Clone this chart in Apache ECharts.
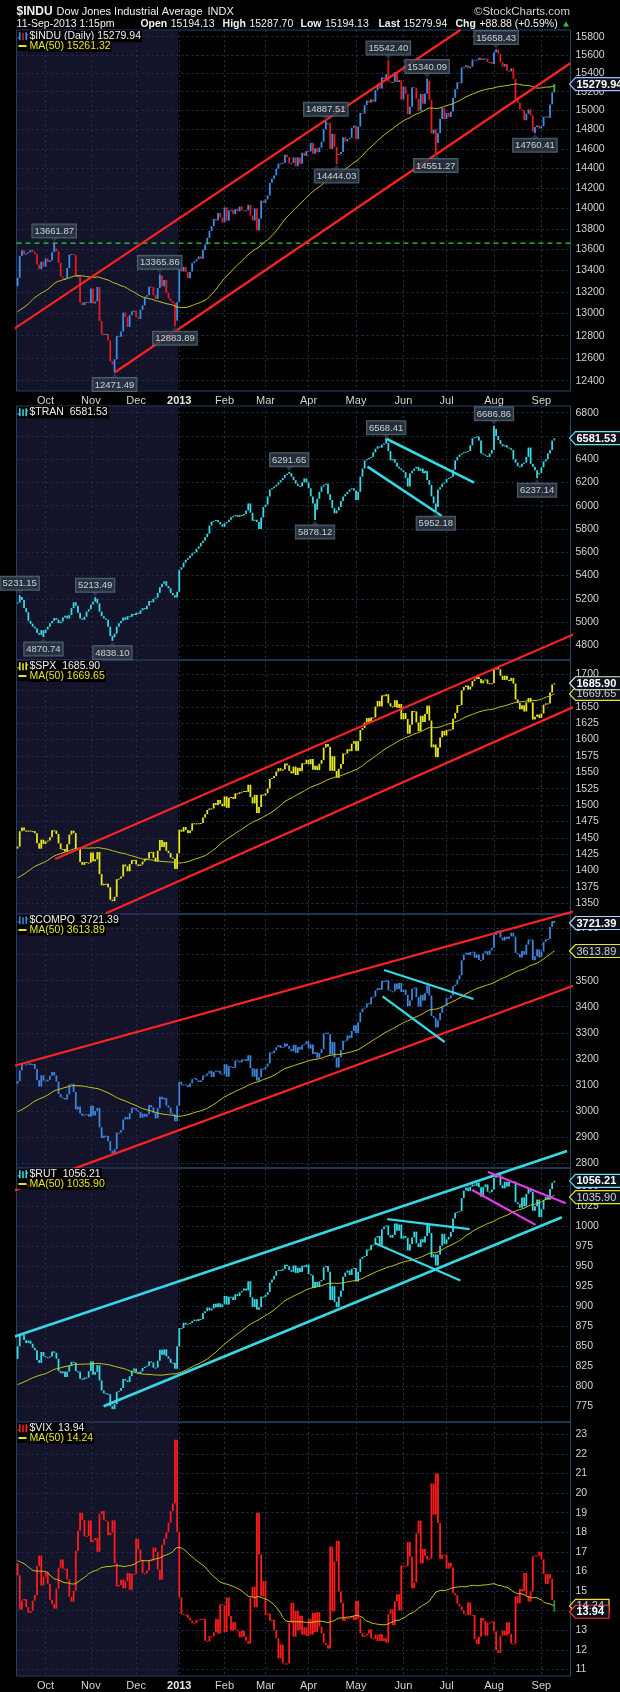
<!DOCTYPE html>
<html>
<head>
<meta charset="utf-8">
<script src="https://cdn.jsdelivr.net/npm/echarts@6/dist/echarts.min.js"></script>
<style>
html,body{margin:0;padding:0;background:#000;}
#chart{width:620px;height:1692px;}
</style>
</head>
<body>
<div id="chart"></div>
<script>
// ---- trading calendar -------------------------------------------------
const firstDay = [2012, 8, 12];
const lastDay = [2013, 8, 11];
const marketHolidays = ['2012-10-29','2012-10-30','2012-11-22','2012-12-25','2013-01-01',
  '2013-01-21','2013-02-18','2013-03-29','2013-05-27','2013-07-04','2013-09-02'];
const monthAbbr = ['Jan','Feb','Mar','Apr','May','Jun','Jul','Aug','Sep','Oct','Nov','Dec'];

// ---- axis ticks -------------------------------------------------------
const induTicks = [12400,12600,12800,13000,13200,13400,13600,13800,14000,14200,14400,14600,14800,15000,15200,15400,15600,15800];
const tranTicks = [4800,5000,5200,5400,5600,5800,6000,6200,6400,6600,6800];
const spxTicks = [1350,1375,1400,1425,1450,1475,1500,1525,1550,1575,1600,1625,1650,1675,1700];
const compqTicks = [2800,2900,3000,3100,3200,3300,3400,3500,3600,3700];
const rutTicks = [775,800,825,850,875,900,925,950,975,1000,1025,1050];
const vixTicks = [11,12,13,14,15,16,17,18,19,20,21,22,23];

// ---- daily closes -----------------------------------------------------
const induPrior = [12871,12943,12896,12772,12736,12653,12604,12573,12777,12727,12805,12908,12943,12822,12617,12676,12734,12888,13075,13008,12976,13096,13117,13165,13168,13175,13207,13165,13172,13164,13251,13275,13271,13255,13203,13173,13057,13125,13172,13107,13103,13124,13000,13090,13035,13047,13292,13306,13254];
const induClose = [
13333,13539,13593,13553,13564,13577,13596,13579,13558,13457,13413,13485,13437,
13515,13482,13495,13575,13610,13584,13474,13345,13326,13329,13424,13551,13557,13548,13344,13346,13103,13078,13104,13107,13096,
13232,13093,13112,13246,12932,12811,12815,12815,12757,12571,12543,12588,12796,12789,12837,13010,12968,12879,12986,13022,13026,
12966,12952,13035,13075,13155,13170,13249,13246,13171,13135,13236,13351,13252,13312,13191,13139,13114,13096,12938,13104,
13412,13391,13435,13385,13329,13390,13471,13488,13507,13535,13511,13596,13649,13712,13780,13825,13896,13881,13954,13910,13861,
14010,13880,13979,13987,13944,13993,13971,14019,13982,13973,13981,14035,13928,13881,14000,13784,13900,14076,14054,
14090,14128,14254,14296,14329,14397,14448,14451,14456,14539,14515,14453,14456,14512,14421,14512,14448,14560,14527,14579,
14573,14662,14550,14606,14565,14613,14673,14802,14865,14865,14599,14757,14619,14537,14548,14568,14720,14677,14700,14713,14819,14840,
14700,14831,14974,14969,15056,15105,15083,15118,15091,15216,15275,15233,15354,15335,15388,15308,15294,15303,15409,15303,15324,15116,
15254,15177,14960,15040,15248,15239,15123,14996,15176,15070,15180,15318,15112,14758,14800,14659,14760,14910,15024,14910,
14975,14932,14988,15136,15225,15300,15291,15460,15464,15484,15452,15471,15548,15544,15545,15568,15543,15556,15559,15521,15521,15500,
15628,15658,15612,15519,15471,15498,15425,15419,15452,15338,15113,15082,15010,15003,14897,14964,15010,14946,14777,14825,14841,14810,
14834,14931,14938,14922,15064,15192,15279.94];

const tranClose = [
5168,5215,5190,5120,5085,5010,4985,4960,4945,4905,4890,4930,4905,
4935,4960,4990,5010,5035,5020,4990,5005,5040,5055,5030,5060,5120,5170,5140,5080,5030,5020,5045,5090,5110,
5150,5175,5200,5160,5090,5050,5030,5020,4960,4880,4870,4900,4960,4990,5010,5040,5020,5050,5045,5070,5060,
5080,5070,5100,5120,5110,5140,5180,5170,5200,5210,5250,5300,5330,5350,5310,5290,5250,5230,5210,5260,
5450,5470,5510,5535,5550,5570,5590,5600,5630,5650,5680,5700,5730,5760,5830,5864,5870,5878,5860,5840,5820,
5850,5860,5880,5900,5910,5920,5905,5920,5915,5930,5960,6020,5940,5870,5880,5860,5800,5900,5990,
6010,6080,6140,6150,6165,6180,6200,6220,6240,6265,6275,6280,6250,6220,6190,6170,6165,6200,6235,6200,
6150,6080,6020,5965,6060,6120,6165,6180,6190,6100,6050,5980,5935,5960,5990,6040,6080,6100,6120,6140,6150,6130,
6050,6120,6250,6320,6390,6400,6410,6420,6460,6490,6510,6500,6525,6535,6540,6470,6390,6400,6370,6335,6320,6305,
6290,6240,6165,6280,6300,6320,6335,6300,6320,6280,6300,6220,6180,6080,6020,5990,6140,6160,6190,6200,
6230,6240,6250,6310,6390,6420,6440,6450,6460,6465,6470,6520,6580,6590,6595,6560,6450,6440,6430,6420,6450,6480,
6660,6600,6565,6530,6510,6520,6500,6495,6480,6400,6370,6340,6335,6360,6370,6420,6500,6360,6335,6305,6270,6280,
6330,6380,6400,6450,6480,6560,6581.53];

const spxPrior = [1374.02,1367.58,1354.68,1352.46,1341.47,1341.45,1334.76,1356.78,1353.64,1363.67,1372.78,1376.51,1362.66,1350.52,1338.31,1337.89,1360.02,1385.97,1385.30,1379.32,1375.32,1365.00,1390.99,1394.23,1401.35,1402.22,1402.80,1405.87,1404.11,1403.93,1405.53,1415.51,1418.16,1418.13,1413.17,1413.49,1402.08,1411.13,1410.44,1409.30,1410.49,1399.48,1406.58,1404.94,1403.44,1432.12,1437.92,1429.08,1433.56];
const spxClose = [
1436.56,1459.99,1465.77,1461.19,1459.32,1461.05,1460.26,1460.15,1456.89,1441.59,1433.32,1447.15,1440.67,
1444.49,1445.75,1450.99,1461.40,1460.93,1455.88,1441.48,1432.56,1432.84,1428.59,1440.13,1454.92,1460.91,1457.34,1433.19,1433.82,1413.11,1408.75,1412.97,1411.94,1412.16,
1427.59,1414.20,1417.26,1428.39,1394.53,1377.51,1379.85,1380.03,1374.53,1355.49,1353.33,1359.88,1386.89,1387.81,1391.03,1409.15,1406.29,1398.94,1409.93,1415.95,1416.18,
1409.46,1407.05,1409.28,1413.94,1418.07,1418.55,1427.84,1428.48,1419.45,1413.58,1430.36,1446.79,1435.81,1443.69,1430.15,1426.66,1419.83,1418.10,1402.43,1426.19,
1462.42,1459.37,1466.47,1461.89,1457.15,1461.02,1472.12,1472.05,1470.68,1472.34,1472.63,1480.94,1485.98,1492.56,1494.81,1494.82,1502.96,1500.18,1507.84,1501.96,1498.11,
1513.17,1495.71,1511.29,1512.12,1509.39,1517.93,1517.01,1519.43,1520.33,1521.38,1519.79,1530.94,1511.95,1502.42,1515.60,1487.85,1496.94,1515.99,1514.68,
1518.20,1525.20,1539.79,1541.46,1544.26,1551.18,1556.22,1552.48,1554.52,1563.23,1560.70,1552.10,1548.34,1558.71,1545.80,1556.89,1551.69,1563.77,1562.85,1569.19,
1562.17,1570.25,1553.69,1559.98,1553.28,1563.07,1568.61,1587.73,1593.37,1588.85,1552.36,1574.57,1552.01,1541.61,1555.25,1562.50,1578.78,1578.79,1585.16,1582.24,1593.61,1597.57,
1582.70,1597.59,1614.42,1617.50,1625.96,1632.69,1626.67,1633.70,1633.77,1650.34,1658.78,1650.47,1667.47,1666.29,1669.16,1655.35,1650.51,1649.60,1660.06,1648.36,1654.41,1630.74,
1640.42,1631.38,1608.90,1622.56,1643.38,1642.81,1626.13,1612.52,1636.36,1626.73,1639.04,1651.81,1628.93,1588.19,1592.43,1573.09,1588.03,1603.26,1613.20,1606.28,
1614.96,1614.08,1615.41,1631.89,1640.46,1652.32,1652.62,1675.02,1680.19,1682.50,1676.26,1680.91,1689.37,1692.09,1695.53,1692.39,1685.94,1690.25,1691.65,1685.33,1685.96,1685.73,
1706.87,1709.67,1707.14,1697.37,1690.91,1697.48,1691.42,1689.47,1694.16,1685.39,1661.32,1655.83,1646.06,1652.35,1642.80,1656.96,1663.50,1656.78,1630.48,1634.96,1638.17,1632.97,
1639.77,1653.08,1655.08,1655.17,1671.71,1683.99,1685.90];

const compqPrior = [2976.08,2976.12,2937.33,2931.77,2902.33,2887.98,2866.19,2908.47,2896.94,2910.04,2942.60,2965.90,2925.30,2890.15,2862.99,2854.24,2893.25,2958.09,2945.84,2939.52,2920.21,2909.77,2967.90,2989.91,3015.86,3011.25,3018.64,3020.86,3022.52,3016.98,3030.93,3062.39,3076.59,3076.21,3067.26,3073.67,3053.40,3069.79,3073.19,3077.14,3081.19,3048.71,3066.96,3075.06,3069.27,3135.81,3136.42,3104.02,3104.53];
const compqClose = [
3114.31,3155.83,3183.95,3178.67,3177.80,3182.62,3175.96,3179.96,3160.78,3117.73,3093.70,3136.60,3116.23,
3113.53,3120.04,3135.23,3149.46,3136.19,3112.35,3065.02,3051.78,3049.41,3044.11,3064.18,3101.17,3104.12,3072.87,3005.62,3016.96,2990.46,2981.70,2986.12,2987.95,2977.23,
3020.06,2982.13,2999.66,3011.93,2937.29,2895.58,2904.87,2904.25,2883.89,2846.81,2836.94,2853.13,2916.07,2916.68,2926.55,2966.85,2976.78,2967.79,2991.78,3012.03,3010.24,
3002.20,2996.69,2973.70,2989.27,2978.04,2986.96,3022.30,3013.81,2992.16,2971.33,3010.60,3054.53,3044.36,3050.39,3021.01,3012.60,2990.16,2985.91,2960.31,3019.51,
3112.26,3100.57,3101.66,3098.81,3091.81,3105.81,3121.76,3125.63,3117.50,3110.78,3117.54,3136.00,3134.71,3143.18,3153.67,3130.38,3149.71,3154.30,3153.66,3142.31,3142.13,
3179.10,3131.17,3171.58,3168.48,3165.13,3193.87,3192.00,3186.49,3196.88,3198.66,3192.03,3213.59,3164.41,3131.49,3161.82,3116.25,3129.65,3162.26,3160.19,
3169.74,3182.03,3224.13,3222.37,3232.09,3244.37,3252.87,3242.32,3245.12,3258.93,3249.07,3237.59,3229.10,3254.19,3222.60,3245.00,3235.30,3252.48,3256.52,3267.52,
3239.17,3254.86,3218.60,3224.98,3203.86,3222.25,3237.86,3297.25,3300.16,3294.95,3216.49,3264.63,3204.67,3166.36,3206.06,3233.55,3269.33,3269.65,3289.99,3279.26,3307.02,3328.79,
3299.13,3340.62,3378.63,3392.97,3396.63,3413.27,3409.17,3436.58,3438.79,3462.61,3471.62,3465.24,3498.97,3496.43,3502.12,3463.30,3459.42,3459.14,3488.89,3467.52,3491.30,3455.91,
3465.37,3445.26,3401.48,3424.05,3469.22,3473.77,3436.95,3400.43,3445.36,3423.56,3452.13,3482.18,3443.20,3364.64,3357.25,3320.76,3347.89,3376.22,3401.86,3403.25,
3434.49,3433.40,3443.67,3479.38,3484.83,3504.26,3520.76,3578.30,3600.08,3607.49,3598.50,3610.00,3611.28,3587.61,3600.39,3579.27,3579.60,3605.19,3613.16,3599.14,3616.47,3626.37,
3675.74,3689.59,3692.95,3665.77,3654.01,3669.12,3660.11,3669.95,3684.44,3669.27,3606.12,3602.78,3589.09,3613.59,3599.79,3638.71,3657.79,3657.57,3578.52,3593.35,3620.30,3589.87,
3612.61,3649.04,3658.78,3660.01,3706.18,3729.02,3721.39];

const rutPrior = [813,810,796,795,790,789,782,793,786,787,798,804,790,779,770,770,780,798,789,786,778,773,791,795,802,800,803,807,805,800,807,812,817,815,810,815,808,812,813,809,806,803,812,812,809,831,836,830,834];
const rutClose = [
849.74,864.70,864.27,857.51,853.86,856.77,852.94,847.94,844.81,832.57,829.12,842.61,837.45,
836.11,836.15,837.16,843.37,841.67,834.22,818.81,816.08,818.44,811.38,818.19,825.59,830.36,829.48,818.76,818.05,809.27,808.39,810.70,810.57,818.73,
830.89,814.26,817.76,826.22,807.18,794.58,791.09,790.62,789.91,775.04,771.37,777.50,793.00,794.23,797.80,809.00,807.10,805.25,812.40,819.30,821.92,
817.50,815.70,818.50,822.70,824.30,825.60,830.90,829.50,823.10,823.20,831.70,845.50,839.10,845.90,837.20,834.20,829.10,829.10,821.70,849.35,
872.60,872.30,879.15,876.90,878.00,878.80,881.30,883.10,881.20,884.00,883.60,891.20,893.50,898.10,894.50,897.00,902.80,898.40,903.40,898.50,902.09,
912.60,901.80,911.40,911.50,907.50,914.70,912.40,917.10,918.90,921.90,919.50,930.90,911.00,898.70,908.60,895.50,898.50,911.70,911.11,
913.90,917.40,929.30,933.20,937.70,943.60,945.00,944.00,946.30,951.50,949.80,945.00,942.70,950.60,941.20,947.80,942.50,950.40,948.50,951.54,
939.90,938.40,922.50,930.00,923.70,930.80,932.60,948.30,949.90,942.80,907.40,924.60,905.20,898.50,911.70,918.90,936.60,941.70,944.20,938.70,946.20,947.46,
930.60,942.60,958.80,961.40,962.40,970.50,969.70,976.10,976.80,985.20,987.40,976.30,995.70,999.10,1000.50,988.50,985.30,988.60,1002.90,994.00,1001.70,984.14,
987.60,985.00,969.20,977.00,985.60,992.80,978.40,973.50,983.40,979.30,987.20,1001.30,991.00,960.70,964.40,950.50,964.30,975.30,990.10,977.48,
983.00,986.20,992.50,1009.30,1016.50,1017.40,1018.30,1034.70,1044.00,1047.80,1043.30,1049.00,1051.60,1049.90,1053.90,1048.20,1036.40,1048.30,1051.70,1042.70,1042.10,1045.26,
1060.00,1063.40,1064.00,1050.70,1046.80,1055.10,1049.20,1054.80,1055.60,1055.20,1029.50,1027.00,1022.70,1035.50,1024.30,1039.90,1046.40,1042.60,1018.80,1024.50,1032.90,1010.90,
1020.70,1032.40,1035.90,1032.70,1046.00,1053.70,1056.21];

const vixPrior = [16.66,17.10,17.21,17.98,18.72,17.95,18.33,16.74,17.11,16.48,15.45,16.27,16.27,18.62,20.47,19.34,18.53,16.70,18.03,18.93,18.96,17.96,15.64,15.95,15.99,15.32,15.28,14.74,14.64,14.85,14.02,13.67,13.45,14.02,15.11,15.85,15.18,15.54,16.24,17.83,17.06,17.47,17.98,17.74,15.60,14.38,16.28,15.80,16.41];
const vixClose = [
15.80,14.05,14.51,14.59,14.18,13.88,13.98,14.51,14.80,16.28,16.81,15.28,15.73,
15.96,15.37,14.55,14.33,14.10,15.12,16.19,16.61,16.14,16.14,15.59,14.70,14.46,15.01,17.06,18.08,18.99,18.63,17.80,17.81,18.60,
17.50,17.59,17.70,17.00,18.92,19.08,18.61,18.56,17.85,17.99,18.61,16.41,15.24,15.31,15.58,15.14,15.50,15.92,15.06,15.87,15.87,
17.67,17.12,16.58,15.90,15.90,16.05,16.58,16.56,17.22,17.00,16.09,15.57,17.36,17.67,18.00,18.48,19.08,19.47,22.72,18.02,
14.68,13.83,13.79,13.79,13.62,13.49,13.36,13.36,13.52,13.55,13.57,13.58,12.46,12.43,12.69,12.69,12.89,13.57,12.83,14.32,14.28,
12.90,14.67,13.72,12.98,13.41,13.02,12.94,12.64,12.98,12.66,12.46,12.31,14.68,15.22,14.17,18.99,16.87,14.73,15.51,
13.78,13.84,13.48,13.53,13.00,12.59,11.56,12.27,11.30,11.30,11.30,13.36,14.39,12.67,13.99,12.99,13.74,12.77,13.15,12.70,
13.58,12.78,13.89,12.91,13.92,13.19,12.84,12.36,12.24,12.06,17.27,13.96,16.51,17.56,14.97,14.39,13.48,13.61,13.62,13.61,13.71,13.52,
14.49,13.59,12.85,12.66,12.73,12.83,13.04,12.59,12.55,12.77,12.45,12.80,12.45,12.59,12.37,13.82,14.07,13.25,14.48,14.83,14.01,16.30,
16.24,16.27,17.50,16.75,15.14,15.44,17.95,18.59,16.41,17.15,16.80,16.61,16.64,20.49,18.90,21.00,18.47,16.64,16.86,16.86,
16.14,16.44,16.20,14.89,14.78,14.35,14.21,14.01,13.84,13.79,14.42,13.78,13.77,12.54,12.29,12.66,13.62,13.47,12.72,13.39,13.39,13.45,
12.94,11.98,11.84,12.72,12.98,12.73,13.41,12.81,12.31,12.31,14.73,14.37,15.10,14.99,15.92,14.76,14.46,14.99,16.77,16.81,16.81,17.01,
16.61,15.88,15.36,15.85,15.63,14.53,13.94];

// ---- labelled highs / lows: [day index, value, side] ---------------------
const induMarks = [[17,13661.87,'top'],[45,12471.49,'bottom'],[66,13365.86,'top'],[73,12883.89,'bottom'],
  [143,14887.51,'top'],[148,14444.03,'bottom'],[172,15542.40,'top'],[190,15340.09,'top'],
  [194,14551.27,'bottom'],[222,15658.43,'top'],[240,14760.41,'bottom']];
const tranMarks = [[1,5231.15,'top'],[12,4870.74,'bottom'],[36,5213.49,'top'],[44,4838.10,'bottom'],
  [126,6291.65,'top'],[138,5878.12,'bottom'],[171,6568.41,'top'],[194,5952.18,'bottom'],
  [221,6686.86,'top'],[241,6237.14,'bottom']];

// ---- hand-drawn trend lines: [day index, value] pairs ---------------------
const induResistance = [[-8.15,12776],[205.4,15874.6]];
const induSupport = [[45,12471.49],[256.4,15506.7]];
const induLevel = 13661.87;
const tranFlagTop = [[170.6,6580],[211.8,6198]];
const tranFlagBottom = [[162.3,6336],[196.8,5912]];
const spxUpper = [[17.5,1417.6],[273.3,1782.4]];
const spxLower = [[41.0,1334.7],[270.5,1667.9]];
const compqUpper = [[-8.15,3158.2],[261.0,3772.7]];
const compqLower = [[-8.15,2674.4],[266.8,3507.7]];
const compqPennantTop = [[170.0,3541.1],[211.5,3429.7]];
const compqPennantBottom = [[169.3,3439.7],[198.1,3264.6]];
const rutUpper = [[-8.15,855.9],[254.9,1093.4]];
const rutLower = [[39.9,775.0],[252.5,1010.8]];
const rutPennantTop = [[171.5,1008.3],[209.7,995.9]];
const rutPennantBottom = [[165.6,978.5],[205.4,931.9]];
const rutFlagTop = [[218.2,1067.2],[254.3,1028.3]];
const rutFlagBottom = [[210.9,1044.8],[240.3,1001.2]];

// ---- helpers ------------------------------------------------------------
const FONT = '"Liberation Sans", Arial, sans-serif';
const GRID_LINE = '#1d3650';
const BORDER = '#27476b';
const ident = v => v;
const logT = v => Math.log(v);
const plain = v => String(v);

function tradingDays() {
  const out = [];
  const d = new Date(Date.UTC(firstDay[0], firstDay[1], firstDay[2]));
  const end = new Date(Date.UTC(lastDay[0], lastDay[1], lastDay[2]));
  while (d <= end) {
    const wd = d.getUTCDay();
    const iso = d.toISOString().slice(0, 10);
    if (wd !== 0 && wd !== 6 && marketHolidays.indexOf(iso) < 0) out.push(iso);
    d.setUTCDate(d.getUTCDate() + 1);
  }
  return out;
}
const days = tradingDays();
const monthStarts = [];
const monthLabel = {};
for (let i = 1; i < days.length; i++) {
  if (days[i].slice(0, 7) !== days[i - 1].slice(0, 7)) {
    monthStarts.push(i);
    const m = +days[i].slice(5, 7);
    monthLabel[i] = m === 1 ? '{yr|' + days[i].slice(0, 4) + '}' : monthAbbr[m - 1];
  }
}
const firstOf2013 = monthStarts.find(i => days[i].slice(0, 4) === '2013');
const SLOTS = 257;

function bars(close, prior, marks, tf) {
  const out = [];
  const seed = prior && prior.length ? prior[prior.length - 1] : close[0];
  for (let i = 0; i < close.length; i++) {
    const o = i === 0 ? seed : close[i - 1];
    const c = close[i];
    let lo = Math.min(o, c), hi = Math.max(o, c);
    (marks || []).forEach(m => { if (m[0] === i) { lo = Math.min(lo, m[1]); hi = Math.max(hi, m[1]); } });
    const kind = i === close.length - 1 ? 2 : (c >= o ? 0 : 1);
    out.push([i, tf(lo), tf(hi), kind]);
  }
  return out;
}
function movingAvg(close, prior, n, tf) {
  const all = prior.concat(close);
  return close.map((_, i) => {
    let s = 0;
    for (let k = i + prior.length - n + 1; k <= i + prior.length; k++) s += all[k];
    return [i, tf(s / n)];
  });
}
function barSeries(g, data, colors) {
  return {
    type: 'custom', xAxisIndex: g, yAxisIndex: g, z: 3, silent: true,
    encode: { x: 0, y: [1, 2] },
    data: data,
    renderItem: function (params, api) {
      const i = api.value(0);
      const top = api.coord([i, api.value(2)]);
      const bot = api.coord([i, api.value(1)]);
      const h = Math.max(1, bot[1] - top[1]);
      return { type: 'rect', shape: { x: top[0] - 0.9, y: top[1], width: 1.8, height: h },
        style: { fill: colors[api.value(3)] } };
    },
    markArea: {
      silent: true, itemStyle: { color: 'rgba(38,38,82,0.5)' },
      data: [[{ xAxis: -0.5 }, { xAxis: firstOf2013 - 0.5 }]]
    }
  };
}
function maSeries(g, data) {
  return { type: 'line', xAxisIndex: g, yAxisIndex: g, z: 4, silent: true, data: data,
    showSymbol: false, symbol: 'none', lineStyle: { color: '#c9c71a', width: 1 } };
}
function trend(g, pts, color, tf, width) {
  return { type: 'line', xAxisIndex: g, yAxisIndex: g, z: 6, silent: true, clip: false,
    symbol: 'none', data: pts.map(p => [p[0], tf(p[1])]),
    lineStyle: { color: color, width: width || 2.2 } };
}
function markSeries(g, marks, tf) {
  return {
    type: 'scatter', xAxisIndex: g, yAxisIndex: g, z: 8, silent: true, clip: false,
    symbol: 'triangle', symbolSize: [7, 5],
    itemStyle: { color: '#2c3a48' },
    data: marks.map(m => ({
      value: [m[0], tf(m[1])], txt: m[1].toFixed(2),
      symbolRotate: m[2] === 'top' ? 180 : 0,
      symbolOffset: [0, m[2] === 'top' ? -3 : 3],
      label: { position: m[2] }
    })),
    label: {
      show: true, formatter: p => p.data.txt, color: '#f2f2f2', fontSize: 9.5, fontFamily: FONT,
      backgroundColor: '#2c3a48', borderColor: '#5f7082', borderWidth: 1,
      padding: [2, 2, 1, 2], distance: 0
    }
  };
}
function xAxisFor(g, showLabels) {
  return {
    type: 'value', gridIndex: g, min: -0.5, max: SLOTS - 0.5,
    axisLine: { show: false },
    axisTick: { show: false, customValues: monthStarts },
    axisLabel: {
      show: showLabels, customValues: monthStarts, formatter: v => monthLabel[v] || '',
      color: '#d4d4d4', fontSize: 11, fontFamily: FONT, margin: 4,
      rich: { yr: { fontWeight: 'bold', fontSize: 11, color: '#e6e6e6', fontFamily: FONT } }
    },
    splitLine: { show: true, lineStyle: { color: GRID_LINE, type: [2, 3], width: 1 } }
  };
}
function yAxisFor(g, min, max, ticks, fmt) {
  return {
    type: 'value', gridIndex: g, position: 'right', min: min, max: max,
    axisLine: { show: false },
    axisTick: { show: false, customValues: ticks },
    axisLabel: { customValues: ticks, formatter: fmt || plain, color: '#d2d2d2', fontSize: 10.5,
      fontFamily: FONT, margin: 5 },
    splitLine: { show: true, lineStyle: { color: GRID_LINE, type: [2, 3], width: 1 } }
  };
}

// ---- panel geometry ------------------------------------------------------
const PLOT_LEFT = 16.5, PLOT_W = 554;
const panels = [
  { top: 30, height: 361 },
  { top: 406, height: 254 },
  { top: 660, height: 254 },
  { top: 914, height: 254 },
  { top: 1168, height: 254 },
  { top: 1422, height: 254 }
];
const grids = panels.map(p => ({ left: PLOT_LEFT, width: PLOT_W, top: p.top, height: p.height,
  show: true, borderColor: BORDER, borderWidth: 1, backgroundColor: 'transparent' }));

const RED = '#ff2222', CYAN = '#36d9e2', MAGENTA = '#e23ce6';
const GREEN_BAR = '#2fbf3a';

const option = {
  backgroundColor: '#000',
  animation: false,
  grid: grids,
  xAxis: [xAxisFor(0, true), xAxisFor(1, false), xAxisFor(2, false), xAxisFor(3, false), xAxisFor(4, false), xAxisFor(5, true)],
  yAxis: [
    yAxisFor(0, Math.log(12310.3), Math.log(15874.5), induTicks.map(logT), v => String(Math.round(Math.exp(v)))),
    yAxisFor(1, 4673.6, 6857.6, tranTicks),
    yAxisFor(2, 1333.7, 1721.4, spxTicks),
    yAxisFor(3, 2780.8, 3756.0, compqTicks),
    yAxisFor(4, 755.3, 1072.2, rutTicks),
    yAxisFor(5, 10.66, 23.63, vixTicks)
  ],
  series: [
    // $INDU
    barSeries(0, bars(induClose, induPrior, induMarks, logT), ['#3a8ee8', '#e81a1e', GREEN_BAR]),
    maSeries(0, movingAvg(induClose, induPrior, 50, logT)),
    { type: 'line', xAxisIndex: 0, yAxisIndex: 0, z: 5, silent: true, symbol: 'none',
      data: [[-0.5, Math.log(induLevel)], [SLOTS - 0.5, Math.log(induLevel)]],
      lineStyle: { color: '#31d62c', width: 1.2, type: [5, 4] } },
    trend(0, induResistance, RED, logT), trend(0, induSupport, RED, logT),
    markSeries(0, induMarks, logT),
    // $TRAN
    barSeries(1, bars(tranClose, null, tranMarks, ident), [CYAN, CYAN, GREEN_BAR]),
    trend(1, tranFlagTop, CYAN, ident, 2.6), trend(1, tranFlagBottom, CYAN, ident, 2.6),
    markSeries(1, tranMarks, ident),
    // $SPX
    barSeries(2, bars(spxClose, spxPrior, [], ident), ['#e6e61e', '#e6e61e', '#9adf2a']),
    maSeries(2, movingAvg(spxClose, spxPrior, 50, ident)),
    trend(2, spxUpper, RED, ident), trend(2, spxLower, RED, ident),
    // $COMPQ
    barSeries(3, bars(compqClose, compqPrior, [], ident), ['#3c84dc', '#3c84dc', GREEN_BAR]),
    maSeries(3, movingAvg(compqClose, compqPrior, 50, ident)),
    trend(3, compqUpper, RED, ident), trend(3, compqLower, RED, ident),
    trend(3, compqPennantTop, CYAN, ident), trend(3, compqPennantBottom, CYAN, ident),
    // $RUT
    barSeries(4, bars(rutClose, rutPrior, [], ident), [CYAN, CYAN, GREEN_BAR]),
    maSeries(4, movingAvg(rutClose, rutPrior, 50, ident)),
    trend(4, rutUpper, CYAN, ident, 2.6), trend(4, rutLower, CYAN, ident, 2.6),
    trend(4, rutPennantTop, CYAN, ident), trend(4, rutPennantBottom, CYAN, ident),
    trend(4, rutFlagTop, MAGENTA, ident), trend(4, rutFlagBottom, MAGENTA, ident),
    // $VIX
    barSeries(5, bars(vixClose, vixPrior, [], ident), ['#ff1c1c', '#ff1c1c', '#1f8f2a']),
    maSeries(5, movingAvg(vixClose, vixPrior, 50, ident))
  ]
};

const chart = echarts.init(document.getElementById('chart'));
chart.setOption(option);

// ---- header, panel legends and last-value tags ----------------------------
const measureCtx = document.createElement('canvas').getContext('2d');
function textWidth(s, size, bold) {
  measureCtx.font = (bold ? 'bold ' : '') + size + 'px ' + FONT;
  return measureCtx.measureText(s).width;
}
function txt(x, y, text, opts) {
  opts = opts || {};
  return { type: 'text', x: x, y: y, z: 20, silent: true,
    style: { text: text, fill: opts.fill || '#f0f0f0', fontSize: opts.size || 11,
      fontWeight: opts.bold ? 'bold' : 'normal', fontFamily: FONT,
      verticalAlign: 'middle', align: opts.align || 'left',
      backgroundColor: opts.bg, padding: opts.bg ? [1, 1, 0, 1] : 0 } };
}
function ohlcIcon(x, y, c1, c2) {
  return [
    { type: 'rect', z: 20, silent: true, shape: { x: x, y: y - 4, width: 1.6, height: 8 }, style: { fill: c1 } },
    { type: 'rect', z: 20, silent: true, shape: { x: x - 1.5, y: y + 1, width: 1.6, height: 1.2 }, style: { fill: c1 } },
    { type: 'rect', z: 20, silent: true, shape: { x: x + 3.2, y: y - 3, width: 1.6, height: 7 }, style: { fill: c2 } },
    { type: 'rect', z: 20, silent: true, shape: { x: x + 6.4, y: y - 4, width: 1.6, height: 8 }, style: { fill: c1 } },
    { type: 'rect', z: 20, silent: true, shape: { x: x + 7.8, y: y - 2, width: 1.6, height: 1.2 }, style: { fill: c1 } }
  ];
}
function maKey(x, y) {
  return { type: 'rect', z: 20, silent: true, shape: { x: x, y: y - 1, width: 8, height: 2 }, style: { fill: '#e6e61e' } };
}
function tag(g, value, text, border, color, bold) {
  const y = chart.convertToPixel({ gridIndex: g }, [0, value])[1];
  const tip = PLOT_LEFT + PLOT_W - 1;
  const right = tip + 10 + text.length * 5.9;
  return [
    { type: 'polygon', z: 21, silent: true,
      shape: { points: [[tip, y], [tip + 6, y - 6.5], [right, y - 6.5], [right, y + 6.5], [tip + 6, y + 6.5]] },
      style: { fill: '#0c1119', stroke: border, lineWidth: 1.2 } },
    { type: 'text', z: 22, silent: true, x: tip + 7, y: y + 0.5,
      style: { text: text, fill: color, fontSize: 11, fontWeight: bold ? 'bold' : 'normal',
        fontFamily: FONT, verticalAlign: 'middle' } }
  ];
}

const Y1 = 11.5, Y2 = 24;
const titleSize = 11;
const symbolEnd = 16.6 + textWidth('$INDU', 12, true);
const nameX = Math.max(53.4, symbolEnd + 4);
let g = [
  txt(16.6, Y1, '$INDU', { bold: true, size: 12 }),
  txt(nameX, Y1, 'Dow Jones Industrial Average', { size: titleSize }),
  txt(nameX + textWidth('Dow Jones Industrial Average', titleSize, false) + 5, Y1, 'INDX', { size: titleSize }),
  txt(570, Y1, '\u00A9StockCharts.com', { size: 11.5, align: 'right', fill: '#cfcfcf' }),
  txt(16.6, Y2, '11-Sep-2013 1:15pm', { size: 10.5 })
];
// quote line: bold field name followed by its value
const quoteFields = [['Open', '15194.13', 140.4], ['High', '15287.70', 222.6], ['Low', '15194.13', 300.5],
  ['Last', '15279.94', 378.4], ['Chg', '+88.88 (+0.59%)', 455.5]];
quoteFields.forEach(f => {
  g.push(txt(f[2], Y2, f[0], { bold: true, size: 10.5 }));
  g.push(txt(f[2] + textWidth(f[0], 10.5, true) + 3.5, Y2, f[1], { size: 10.5 }));
});
g.push({ type: 'polygon', z: 20, silent: true, shape: { points: [[563, 26.5], [569, 26.5], [566, 21.5]] }, style: { fill: '#2fbf3a' } });

// panel legends
const legends = [
  { top: 30, name: '$INDU (Daily) 15279.94', c1: '#3a8ee8', c2: '#e81a1e', ma: 'MA(50) 15261.32' },
  { top: 406, name: '$TRAN  6581.53', c1: CYAN, c2: CYAN },
  { top: 660, name: '$SPX  1685.90', c1: '#e6e61e', c2: '#e6e61e', ma: 'MA(50) 1669.65' },
  { top: 914, name: '$COMPQ  3721.39', c1: '#3c84dc', c2: '#3c84dc', ma: 'MA(50) 3613.89' },
  { top: 1168, name: '$RUT  1056.21', c1: CYAN, c2: CYAN, ma: 'MA(50) 1035.90' },
  { top: 1422, name: '$VIX  13.94', c1: '#ff1c1c', c2: '#ff1c1c', ma: 'MA(50) 14.24' }
];
legends.forEach(l => {
  const y1 = l.top + 6.3, y2 = l.top + 16;
  g.push({ type: 'rect', z: 19, silent: true, shape: { x: 17.5, y: y1 - 5.5, width: 10, height: 11 }, style: { fill: '#000' } });
  g = g.concat(ohlcIcon(19, y1, l.c1, l.c2));
  g.push(txt(28.5, y1, l.name, { size: 10.5, bg: '#000' }));
  if (l.ma) {
    g.push({ type: 'rect', z: 19, silent: true, shape: { x: 17.5, y: y2 - 5, width: 10, height: 10 }, style: { fill: '#000' } });
    g.push(maKey(18.5, y2));
    g.push(txt(28.5, y2, l.ma, { size: 10.5, fill: '#e6e61e', bg: '#000' }));
  }
});
// last-value tags on the price scales
g = g.concat(
  tag(0, Math.log(15279.94), '15279.94', '#9cc3ff', '#ffffff', true),
  tag(1, 6581.53, '6581.53', '#66e4ec', '#ffffff', true),
  tag(2, 1669.65, '1669.65', '#e6e62e', '#cfcfcf', false),
  tag(2, 1685.90, '1685.90', '#e8e8d0', '#ffffff', true),
  tag(3, 3613.89, '3613.89', '#e6e62e', '#cfcfcf', false),
  tag(3, 3721.39, '3721.39', '#b4ccff', '#ffffff', true),
  tag(4, 1035.90, '1035.90', '#e6e62e', '#cfcfcf', false),
  tag(4, 1056.21, '1056.21', '#66e4ec', '#ffffff', true),
  tag(5, 14.24, '14.24', '#e6e62e', '#cfcfcf', false),
  tag(5, 13.94, '13.94', '#ff3030', '#ffffff', true)
);
chart.setOption({ graphic: g });
</script>
</body>
</html>
